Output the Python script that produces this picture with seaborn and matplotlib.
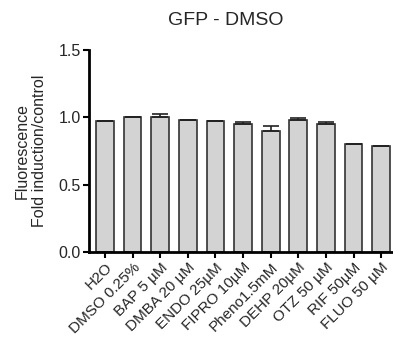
import pandas as pd
import matplotlib
matplotlib.use("Agg")
import matplotlib.pyplot as plt
import seaborn as sns

treatments = ['H2O', 'DMSO 0.25%', 'BAP 5 µM', 'DMBA 20 µM', 'ENDO 25µM', 'FIPRO 10µM',
              'Pheno1.5mM', 'DEHP 20µM', 'OTZ 50 µM', 'RIF 50µM', 'FLUO 50 µM']
fold = [0.970, 1.000, 1.000, 0.978, 0.975, 0.948, 0.899, 0.983, 0.953, 0.801, 0.790]
sem = [0.003, 0.003, 0.025, 0.002, 0.002, 0.018, 0.037, 0.010, 0.013, 0.0, 0.0]

df = pd.DataFrame({'treatment': treatments, 'fold': fold, 'sem': sem})

sns.set_theme(style="ticks")
plt.rcParams['font.family'] = ['Liberation Sans', 'DejaVu Sans']

fig = plt.figure(figsize=(3.93, 3.41), dpi=100)
ax = fig.add_axes([0.2265, 0.261, 0.7735, 0.592])

sns.barplot(data=df, x='treatment', y='fold', color='#d3d3d3', edgecolor='#333333',
            linewidth=1.2, width=0.64, saturation=1, errorbar=None, ax=ax)
ax.errorbar(range(len(fold)), fold, yerr=[[0] * len(sem), sem], fmt='none',
            ecolor='#222222', elinewidth=1.2, capsize=5.5, capthick=1.2)

ax.set_ylim(0, 1.5)
ax.set_xlim(-0.58, 10.43)
ax.set_yticks([0.0, 0.5, 1.0, 1.5])
ax.set_yticklabels(['0.0', '0.5', '1.0', '1.5'], fontsize=11.5)
ax.set_xticks(range(len(treatments)))
ax.set_xticklabels(treatments, rotation=45, ha='right', rotation_mode='anchor', fontsize=11)
ax.tick_params(axis='both', direction='out', length=4, width=1.5, color='black', pad=2)
for s in ['left', 'bottom']:
    ax.spines[s].set_linewidth(2)
    ax.spines[s].set_color('black')
sns.despine(ax=ax)

ax.set_xlabel('')
ax.set_ylabel('Fluorescence\nFold induction/control', fontsize=11.5, labelpad=8)
fig.text(0.575, 0.941, 'GFP - DMSO', ha='center', va='center', fontsize=14)

fig.savefig('out.png', dpi=100)
